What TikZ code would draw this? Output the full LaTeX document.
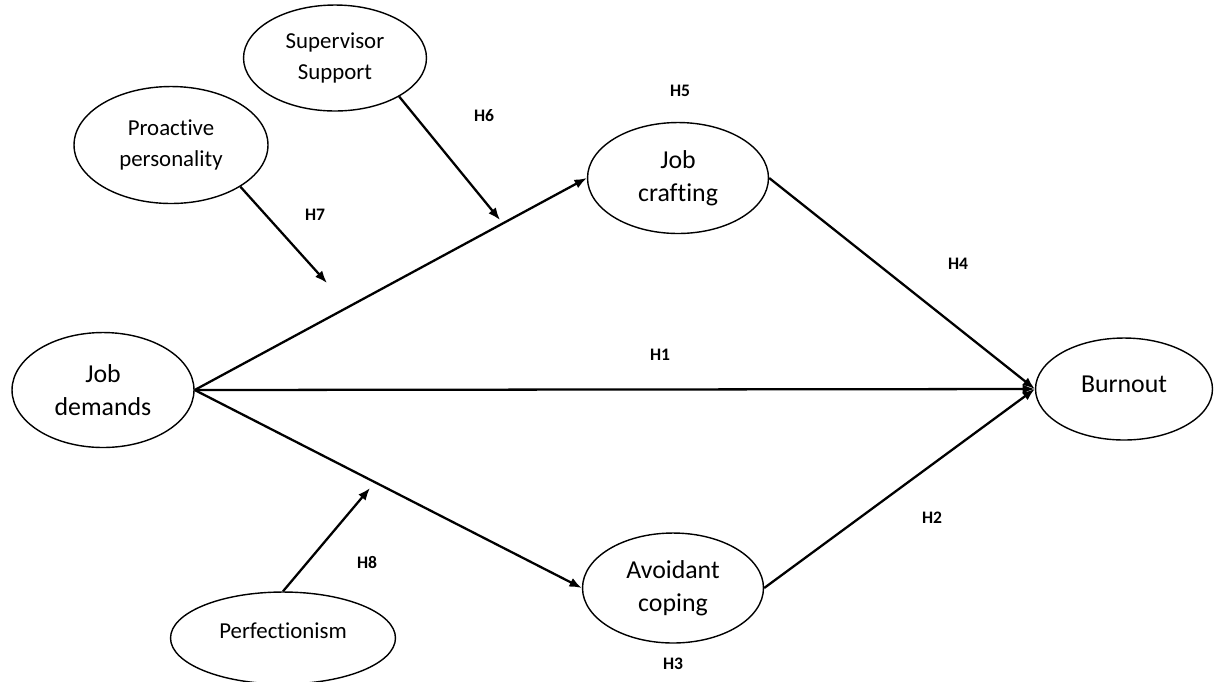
\documentclass[tikz,border=0pt]{standalone}
\usepackage{fontspec}
\setmainfont{Carlito}[Ligatures=NoCommon]
\usetikzlibrary{arrows.meta,shapes.geometric}
\tikzset{
  ar/.style={-{Latex[length=7pt,width=5.4pt]},line width=1.3pt},
  var/.style={ellipse,draw,line width=0.8pt,inner sep=0pt,align=center,font=\fontsize{14.7}{18.7}\selectfont},
  modv/.style={var,font=\fontsize{13}{17.6}\selectfont},
  hyp/.style={font=\fontsize{10}{12}\selectfont\bfseries}
}
\begin{document}
\begin{tikzpicture}[x=0.02cm,y=-0.02cm]
\useasboundingbox (0,0) rectangle (1216,681);
% variables
\node[var,minimum width=3.64cm,minimum height=2.30cm] (jd) at (103,390) {Job\\demands};
\node[var,minimum width=3.62cm,minimum height=2.22cm] (jc) at (678,178) {Job\\crafting};
\node[var,minimum width=3.62cm,minimum height=2.20cm] (ac) at (673,588) {Avoidant\\coping};
\node[var,minimum width=3.54cm,minimum height=2.04cm,text depth=5.6pt] (bo) at (1124,389) {Burnout};
% moderators
\node[modv,minimum width=3.66cm,minimum height=2.12cm] (ss) at (335,58) {Supervisor\\Support};
\node[modv,minimum width=3.88cm,minimum height=2.34cm] (pp) at (171,145) {Proactive\\personality};
\node[modv,minimum width=4.50cm,minimum height=1.84cm,text depth=8pt] (pf) at (283,638) {Perfectionism};
\coordinate (m7) at (327,283);
\coordinate (m6) at (500,220);
\coordinate (m8) at (370,488);
% paths
\draw[ar] (jd.east) -- (jc.west);
\draw[ar] (jd.east) -- (bo.west);
\draw[ar] (jd.east) -- (ac.west);
\draw[ar] (jc.east) -- (bo.west);
\draw[ar] (ac.east) -- (bo.west);
\draw[ar] (pp.-31) -- (m7);
\draw[ar] (ss.-31) -- (m6);
\draw[ar] (pf.north) -- (m8);
% hypotheses
\node[hyp] (h1) at (660,355) {H1};
\node[hyp] (h2) at (932,518) {H2};
\node[hyp] (h3) at (673,664) {H3};
\node[hyp] (h4) at (958,264) {H4};
\node[hyp] (h5) at (680,91) {H5};
\node[hyp] (h6) at (484,116) {H6};
\node[hyp] (h7) at (315,215) {H7};
\node[hyp] (h8) at (367,562) {H8};
\end{tikzpicture}
\end{document}
